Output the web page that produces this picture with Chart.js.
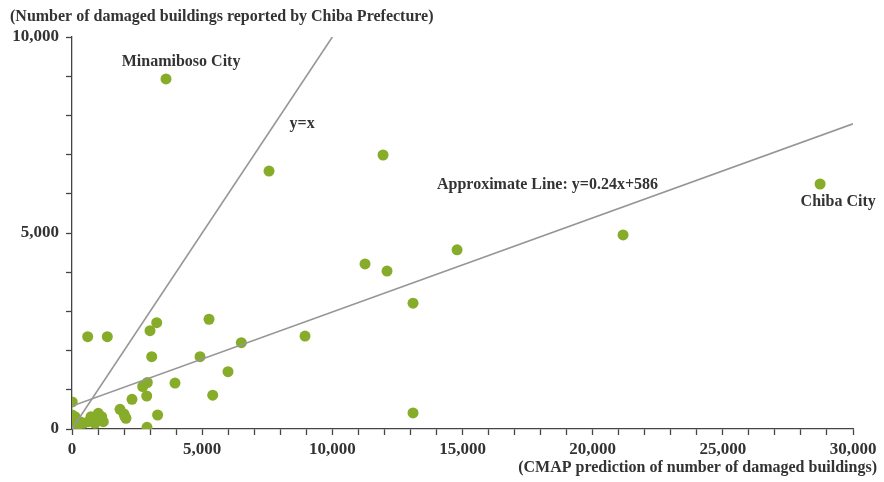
<!DOCTYPE html>
<html>
<head>
<meta charset="utf-8">
<script src="https://cdn.jsdelivr.net/npm/chart.js@4"></script>
<style>
  html, body { margin: 0; padding: 0; background: #fff; }
</style>
</head>
<body>
<canvas id="scatterChart" width="884" height="482"></canvas>
<script>
// CMAP prediction (x) vs. reported damaged buildings (y)
const cmapPrediction = [
  3611, 11948, 7568, 28736, 21168, 14791, 11256, 12101, 13100, 8951,
  13100, 5263, 3254, 2997, 603, 1356, 6504, 3062, 4918, 5993,
  3957, 2893, 2716, 5405, 2870, 2305, 1844, 1998, 2074, 3288,
  2882, 10, 0, 115, 50, 307, 434, 626, 730, 1010,
  1141, 1202, 949, 884, 180, 0, 230, 2036
];
const reportedDamage = [
  8930, 6990, 6580, 6250, 4950, 4570, 4210, 4030, 3210, 2370,
  410, 2800, 2712, 2508, 2355, 2355, 2202, 1844, 1844, 1462,
  1171, 1186, 1084, 862, 842, 757, 502, 383, 273, 357,
  43, 690, 357, 314, 186, 186, 145, 186, 314, 400,
  314, 186, 230, 145, 59, 25, 100, 314
];

// reference lines (end points)
const identityX = [0, 10000];
const identityY = [0, 10000];
const approxX = [0, 30000];
const approxY = [586, 7786];

const xTickLabels = [0, 5000, 10000, 15000, 20000, 25000, 30000];
const yTickLabels = [0, 5000, 10000];

const notes = [
  { text: "Minamiboso City", x: 4190, y: 9360, align: "center" },
  { text: "y=x", x: 8840, y: 7780, align: "center" },
  { text: "Approximate Line: y=0.24x+586", x: 14020, y: 6224, align: "left" },
  { text: "Chiba City", x: 29430, y: 5790, align: "center" }
];

const serif = "'Liberation Serif', 'DejaVu Serif', serif";
const green = "rgb(134,172,42)";
const grey = "rgb(150,150,150)";

function toPoints(xs, ys) {
  return xs.map((x, i) => ({ x: x, y: ys[i] }));
}

const textPlugin = {
  id: "textPlugin",
  afterDraw(chart) {
    const c = chart.ctx;
    const xs = chart.scales.x, ys = chart.scales.y;
    c.save();
    c.fillStyle = "#333";
    c.font = "bold 16px " + serif;
    c.textBaseline = "middle";
    notes.forEach(n => {
      c.textAlign = n.align;
      c.fillText(n.text, xs.getPixelForValue(n.x), ys.getPixelForValue(n.y));
    });
    c.textAlign = "left";
    c.fillText("(Number of damaged buildings reported by Chiba Prefecture)", 10, 17);
    c.textAlign = "right";
    c.fillText("(CMAP prediction of number of damaged buildings)", 877, 468);
    c.restore();
  }
};

new Chart(document.getElementById("scatterChart"), {
  type: "scatter",
  data: {
    datasets: [
      {
        label: "identity",
        data: toPoints(identityX, identityY),
        showLine: true,
        borderColor: grey,
        borderWidth: 1.6,
        pointRadius: 0,
        order: 0
      },
      {
        label: "approx",
        data: toPoints(approxX, approxY),
        showLine: true,
        borderColor: grey,
        borderWidth: 1.6,
        pointRadius: 0,
        order: 0
      },
      {
        label: "cities",
        data: toPoints(cmapPrediction, reportedDamage),
        backgroundColor: green,
        borderWidth: 0,
        pointRadius: 5.5,
        order: 1
      }
    ]
  },
  options: {
    responsive: false,
    animation: false,
    devicePixelRatio: 1,
    layout: { padding: { top: 37, right: 31, left: 0, bottom: 0 } },
    plugins: {
      legend: { display: false },
      tooltip: { enabled: false }
    },
    scales: {
      x: {
        type: "linear",
        min: 0,
        max: 30000,
        afterFit(scale) { scale.height = 53; },
        afterBuildTicks(scale) {
          const t = [];
          for (let v = 0; v <= 30000; v += 1000) t.push({ value: v });
          scale.ticks = t;
        },
        border: { color: "#444", width: 1.3 },
        grid: { drawOnChartArea: false, tickLength: 6, tickColor: "#444", tickWidth: 1.3 },
        ticks: {
          color: "#333",
          autoSkip: false,
          maxRotation: 0,
          padding: 4,
          font: { family: serif, size: 17, weight: "bold" },
          callback: v => xTickLabels.includes(v) ? v.toLocaleString("en-US") : ""
        }
      },
      y: {
        type: "linear",
        min: 0,
        max: 10000,
        afterFit(scale) { scale.width = 72; },
        afterBuildTicks(scale) {
          const t = [];
          for (let v = 0; v <= 10000; v += 1000) t.push({ value: v });
          scale.ticks = t;
        },
        border: { color: "#444", width: 1.3 },
        grid: { drawOnChartArea: false, tickLength: 6, tickColor: "#444", tickWidth: 1.3 },
        ticks: {
          color: "#333",
          autoSkip: false,
          padding: 7,
          font: { family: serif, size: 17, weight: "bold" },
          callback: v => yTickLabels.includes(v) ? v.toLocaleString("en-US") : ""
        }
      }
    }
  },
  plugins: [textPlugin]
});
</script>
</body>
</html>
